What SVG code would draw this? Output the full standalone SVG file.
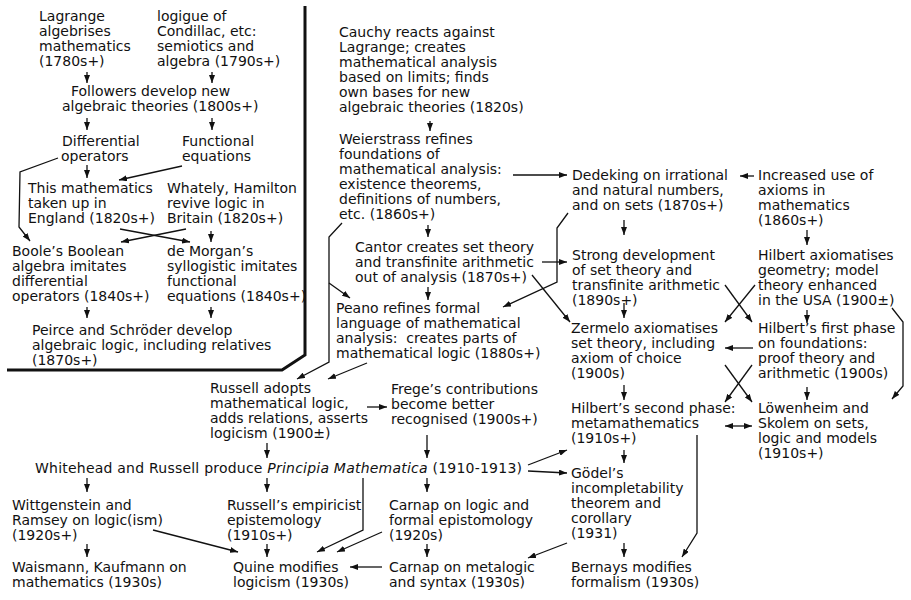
<svg xmlns="http://www.w3.org/2000/svg" width="911" height="600" viewBox="0 0 911 600">
<defs>
<style>
text{font-family:"DejaVu Sans","Liberation Sans",sans-serif;font-size:14px;fill:#111;white-space:pre}
.it{font-style:italic}
.c{fill:none;stroke:#111;stroke-width:1.3}
.a{marker-end:url(#ah)}
.b{marker-start:url(#ah);marker-end:url(#ah)}
.border{fill:none;stroke:#111;stroke-width:3}
</style>
<marker id="ah" viewBox="0 0 8 6" refX="8" refY="3" markerWidth="8" markerHeight="6" orient="auto-start-reverse" markerUnits="userSpaceOnUse"><path d="M0,0 L8,3 L0,6 z" fill="#111"/></marker>
</defs>
<rect width="911" height="600" fill="#fff"/>
<polyline class="border" points="305,6 305,355 282,370 7,370"/>
<g id="lagrange"><text x="39" y="21">Lagrange</text><text x="39" y="36">algebrises</text><text x="39" y="51">mathematics</text><text x="39" y="66">(1780s+)</text></g>
<g id="condillac"><text x="157" y="21">logigue of</text><text x="157" y="36">Condillac, etc:</text><text x="157" y="51">semiotics and</text><text x="157" y="66">algebra (1790s+)</text></g>
<g id="followers"><text x="71" y="96">Followers develop new</text><text x="62" y="111">algebraic theories (1800s+)</text></g>
<g id="differential"><text x="62" y="146">Differential</text><text x="61" y="161">operators</text></g>
<g id="functional"><text x="182" y="146">Functional</text><text x="182" y="161">equations</text></g>
<g id="england"><text x="28" y="193">This mathematics</text><text x="28" y="208">taken up in</text><text x="28" y="223">England (1820s+)</text></g>
<g id="whately"><text x="167" y="193">Whately, Hamilton</text><text x="167" y="208">revive logic in</text><text x="167" y="223">Britain (1820s+)</text></g>
<g id="boole"><text x="12" y="256">Boole’s Boolean</text><text x="12" y="271">algebra imitates</text><text x="12" y="286">differential</text><text x="12" y="301">operators (1840s+)</text></g>
<g id="demorgan"><text x="167" y="256">de Morgan’s</text><text x="167" y="271">syllogistic imitates</text><text x="167" y="286">functional</text><text x="167" y="301">equations (1840s+)</text></g>
<g id="peirce"><text x="32" y="335">Peirce and Schröder develop</text><text x="32" y="350">algebraic logic, including relatives</text><text x="32" y="365">(1870s+)</text></g>
<g id="cauchy"><text x="339" y="37">Cauchy reacts against</text><text x="339" y="52">Lagrange; creates</text><text x="339" y="67">mathematical analysis</text><text x="339" y="82">based on limits; finds</text><text x="339" y="97">own bases for new</text><text x="339" y="112">algebraic theories (1820s)</text></g>
<g id="weierstrass"><text x="339" y="144">Weierstrass refines</text><text x="339" y="159">foundations of</text><text x="339" y="174">mathematical analysis:</text><text x="339" y="189">existence theorems,</text><text x="339" y="204">definitions of numbers,</text><text x="339" y="219">etc. (1860s+)</text></g>
<g id="cantor"><text x="355" y="252">Cantor creates set theory</text><text x="355" y="267">and transfinite arithmetic</text><text x="355" y="282">out of analysis (1870s+)</text></g>
<g id="peano"><text x="336" y="313">Peano refines formal</text><text x="336" y="328">language of mathematical</text><text x="336" y="343">analysis:  creates parts of</text><text x="336" y="358">mathematical logic (1880s+)</text></g>
<g id="russell"><text x="210" y="393">Russell adopts</text><text x="210" y="408">mathematical logic,</text><text x="210" y="423">adds relations, asserts</text><text x="210" y="438">logicism (1900±)</text></g>
<g id="frege"><text x="391" y="394">Frege’s contributions</text><text x="391" y="409">become better</text><text x="391" y="424">recognised (1900s+)</text></g>
<g id="principia"><text x="35" y="473" textLength="487" lengthAdjust="spacing">Whitehead and Russell produce <tspan class="it">Principia Mathematica</tspan> (1910-1913)</text></g>
<g id="wittgenstein"><text x="12" y="510">Wittgenstein and</text><text x="12" y="525">Ramsey on logic(ism)</text><text x="12" y="540">(1920s+)</text></g>
<g id="empiricist"><text x="227" y="510">Russell’s empiricist</text><text x="227" y="525">epistemology</text><text x="227" y="540">(1910s+)</text></g>
<g id="carnap1"><text x="389" y="510">Carnap on logic and</text><text x="389" y="525">formal epistomology</text><text x="389" y="540">(1920s)</text></g>
<g id="waismann"><text x="12" y="572">Waismann, Kaufmann on</text><text x="12" y="587">mathematics (1930s)</text></g>
<g id="quine"><text x="233" y="572">Quine modifies</text><text x="233" y="587">logicism (1930s)</text></g>
<g id="carnap2"><text x="389" y="572">Carnap on metalogic</text><text x="389" y="587">and syntax (1930s)</text></g>
<g id="dedekind"><text x="572" y="180">Dedeking on irrational</text><text x="572" y="195">and natural numbers,</text><text x="572" y="210">and on sets (1870s+)</text></g>
<g id="axioms"><text x="758" y="180">Increased use of</text><text x="758" y="195">axioms in</text><text x="758" y="210">mathematics</text><text x="758" y="225">(1860s+)</text></g>
<g id="strong"><text x="572" y="260">Strong development</text><text x="572" y="275">of set theory and</text><text x="572" y="290">transfinite arithmetic</text><text x="572" y="305">(1890s+)</text></g>
<g id="hilbertgeom"><text x="758" y="260">Hilbert axiomatises</text><text x="758" y="275">geometry; model</text><text x="758" y="290">theory enhanced</text><text x="758" y="305">in the USA (1900±)</text></g>
<g id="zermelo"><text x="571" y="333">Zermelo axiomatises</text><text x="571" y="348">set theory, including</text><text x="571" y="363">axiom of choice</text><text x="571" y="378">(1900s)</text></g>
<g id="hilbert1"><text x="758" y="333">Hilbert’s first phase</text><text x="758" y="348">on foundations:</text><text x="758" y="363">proof theory and</text><text x="758" y="378">arithmetic (1900s)</text></g>
<g id="hilbert2"><text x="571" y="413">Hilbert’s second phase:</text><text x="571" y="428">metamathematics</text><text x="571" y="443">(1910s+)</text></g>
<g id="lowenheim"><text x="758" y="413">Löwenheim and</text><text x="758" y="428">Skolem on sets,</text><text x="758" y="443">logic and models</text><text x="758" y="458">(1910s+)</text></g>
<g id="godel"><text x="571" y="478">Gödel’s</text><text x="571" y="493">incompletability</text><text x="571" y="508">theorem and</text><text x="571" y="523">corollary</text><text x="571" y="538">(1931)</text></g>
<g id="bernays"><text x="571" y="572">Bernays modifies</text><text x="571" y="587">formalism (1930s)</text></g>
<g id="connectors">
<path class="c a" d="M87,72 V83"/><path class="c a" d="M212,72 V83"/>
<path class="c a" d="M87,118 V130"/><path class="c a" d="M212,118 V130"/>
<path class="c a" d="M87,165 V178"/>
<path class="c a" d="M182,166 L119,180"/>
<path class="c a" d="M58,158 L20,172 L19,227 L30,241"/>
<path class="c a" d="M120,229 L190,242"/>
<path class="c a" d="M186,229 L121,242"/>
<path class="c a" d="M211,231 V242"/>
<path class="c a" d="M87,307 V318"/><path class="c a" d="M211,307 V318"/>
<path class="c a" d="M430,121 V131"/>
<path class="c a" d="M513,175 H567"/>
<path class="c a" d="M428,225 V237"/>
<path class="c a" d="M542,262 H567"/>
<path class="c a" d="M532,275 L570,322"/>
<path class="c a" d="M428,287 V300"/>
<path class="c a" d="M342,223 L329,237 L329,362 L297,379"/>
<path class="c a" d="M329,283 L350,298"/>
<path class="c a" d="M568,213 L557,228 L557,282 L503,307"/>
<path class="c a" d="M367,363 L328,379"/>
<path class="c a" d="M367,407 H387"/>
<path class="c a" d="M267,443 V458"/>
<path class="c a" d="M427,435 V458"/>
<path class="c a" d="M87,478 V492"/><path class="c a" d="M267,478 V492"/><path class="c a" d="M427,478 V492"/>
<path class="c a" d="M528,465 L567,450"/>
<path class="c a" d="M528,471 L567,473"/>
<path class="c a" d="M363,478 V530 L317,552"/>
<path class="c a" d="M153,530 L238,552"/>
<path class="c a" d="M87,544 V557"/><path class="c a" d="M267,544 V557"/><path class="c a" d="M427,544 V557"/>
<path class="c a" d="M382,532 L337,552"/>
<path class="c a" d="M382,567 H350"/>
<path class="c a" d="M567,543 L528,558"/>
<path class="c a" d="M754,176 H740"/>
<path class="c a" d="M624,220 V235"/>
<path class="c a" d="M807,230 V245"/>
<path class="c a" d="M755,285 L725,322"/>
<path class="c a" d="M725,285 L752,322"/>
<path class="c a" d="M624,303 V318"/>
<path class="c a" d="M807,310 V323"/>
<path class="c a" d="M892,308 L903,322 L903,386 L892,399"/>
<path class="c a" d="M753,348 H725"/>
<path class="c a" d="M725,365 L752,402"/>
<path class="c a" d="M752,365 L725,402"/>
<path class="c a" d="M624,385 V400"/>
<path class="c a" d="M807,387 V400"/>
<path class="c b" d="M725,426 H752"/>
<path class="c a" d="M697,435 V533 L682,557"/>
<path class="c a" d="M624,450 V463"/>
<path class="c a" d="M624,543 V557"/>
</g>
</svg>
